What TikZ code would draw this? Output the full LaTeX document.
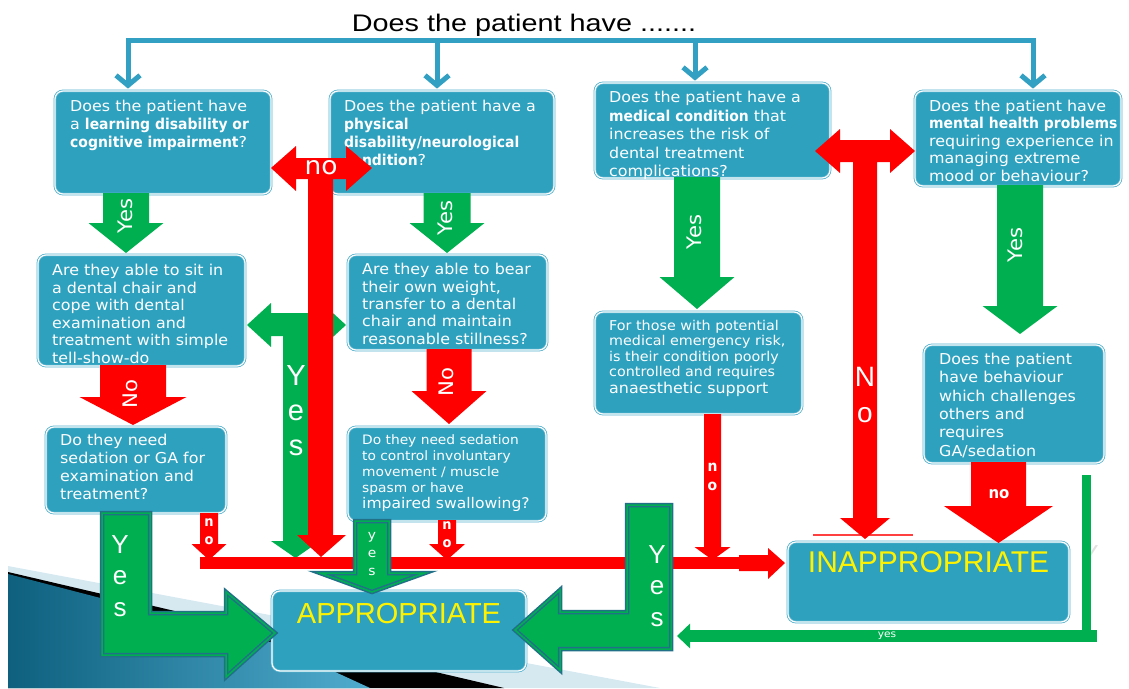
\documentclass[tikz,border=0pt]{standalone}
\usepackage{fontspec}
\setmainfont[UprightFeatures={FakeStretch=1.06},BoldFeatures={FakeStretch=0.93}]{DejaVu Sans}
\newfontfamily\arialfont{Liberation Sans}
\newfontfamily\titlefont[FakeStretch=1.2]{Liberation Sans}
\usetikzlibrary{arrows.meta}

\definecolor{boxblue}{RGB}{46,161,191}
\definecolor{boxrim}{RGB}{84,178,206}
\definecolor{linkblue}{RGB}{49,160,194}
\definecolor{okgreen}{RGB}{0,176,80}
\definecolor{nored}{RGB}{255,0,0}
\definecolor{tealrim}{RGB}{33,112,136}
\definecolor{decodark}{RGB}{14,96,126}
\definecolor{decolight}{RGB}{80,172,206}
\definecolor{decoband}{RGB}{214,233,241}

% question box from its corners x1,y1,x2,y2
\newcommand\qbox[5]{%
  \node[qbox, minimum width=#4-#2, minimum height=#5-#3] (#1)
    at ({(#2+#4)/2},{(#3+#5)/2}) {};}
% fat arrow pointing down: [colour] x, top, head, tip, half shaft, half head
\newcommand\fatdown[7][okgreen]{%
  \fill[#1] ({#2-#6},#3) -- ({#2+#6},#3) -- ({#2+#6},#4) -- ({#2+#7},#4)
    -- (#2,#5) -- ({#2-#7},#4) -- ({#2-#6},#4) -- cycle;}

\begin{document}
\begin{tikzpicture}[x=1pt,y=-1pt,
  qbox/.style={draw=boxrim, line width=0.8pt, double=white, double distance=1.2pt,
    fill=boxblue, rounded corners=8pt, inner sep=0pt},
  qtext/.style={anchor=north west, inner sep=0pt, align=left, text=white,
    font=\fontsize{15}{18}\selectfont},
  link/.style={draw=linkblue, line width=5pt, shorten >=2pt,
    -{Straight Barb[length=10pt,width=24pt]}},
  rlab/.style={rotate=90, inner sep=0pt, text=white, font=\fontsize{20}{20}\selectfont},
  stack/.style={anchor=north, inner sep=0pt, align=center, text=white},
  bigyes/.style={fill=okgreen, draw=tealrim, line width=1.5pt, double=okgreen,
    double distance=1.5pt},
  verdict/.style={anchor=north, inner sep=0pt, text=yellow,
    font=\arialfont\fontsize{30}{30}\selectfont}]

  \useasboundingbox (0,0) rectangle (1129,688);

  % slide background swoosh
  \fill[decoband] (8,566) -- (660,688) -- (8,688) -- cycle;
  \fill[black] (8,572) -- (504,688) -- (8,688) -- cycle;
  \shade[left color=decodark, right color=decolight]
    (8,574) -- (270,642) -- (370,688) -- (8,688) -- cycle;

  % boxes
  \qbox{b1}{55}{91}{271}{194}
  \qbox{b2}{330}{91}{554}{194}
  \qbox{b3}{595}{83}{830}{178}
  \qbox{b4}{915}{91}{1121}{186}
  \qbox{b5}{38}{255}{245}{366}
  \qbox{b6}{348}{255}{547}{350}
  \qbox{b7}{595}{312}{802}{414}
  \qbox{b8}{924}{345}{1104}{463}
  \qbox{b9}{46}{427}{226}{513}
  \qbox{b10}{348}{427}{546}{521}
  \qbox{appr}{272}{591}{526}{671}
  \qbox{inappr}{788}{542}{1069}{622}

  % title and links
  \node[anchor=base, font=\titlefont\fontsize{24}{24}\selectfont] (title)
    at (524,31) {Does the patient have .......};
  \coordinate (d1) at (128,40);
  \coordinate (d2) at (437,40);
  \coordinate (d3) at (695,40);
  \coordinate (d4) at (1033,40);
  \draw[linkblue, line width=5pt, line cap=rect] (d1) -- (d4);
  \foreach \d/\b in {d1/b1,d2/b2,d3/b3,d4/b4}
    \draw[link] (\d) -- (\d |- \b.north);

  % questions
  \node[qtext] (t1) at (70,100) {Does the patient have\\a \textbf{learning disability or}\\\textbf{cognitive impairment}?};
  \node[qtext] (t2) at (344,100) {Does the patient have a\\\textbf{physical}\\\textbf{disability/neurological}\\\textbf{condition}?};
  \node[qtext, font=\fontsize{15}{18.5}\selectfont] (t3) at (609,91) {Does the patient have a\\\textbf{medical condition} that\\increases the risk of\\dental treatment\\complications?};
  \node[qtext, font=\fontsize{15}{17.4}\selectfont] (t4) at (929,100) {Does the patient have\\\textbf{mental health problems}\\requiring experience in\\managing extreme\\mood or behaviour?};
  \node[qtext, font=\fontsize{15}{17.5}\selectfont] (t5) at (52,264) {Are they able to sit in\\a dental chair and\\cope with dental\\examination and\\treatment with simple\\tell-show-do};
  \node[qtext, font=\fontsize{15}{17.4}\selectfont] (t6) at (362,263) {Are they able to bear\\their own weight,\\transfer to a dental\\chair and maintain\\reasonable stillness?};
  \node[qtext, font=\fontsize{13.5}{15.5}\selectfont] (t7) at (609,320) {For those with potential\\medical emergency risk,\\is their condition poorly\\controlled and requires\\[1pt]{\fontsize{15}{18}\selectfont anaesthetic support}};
  \node[qtext, font=\fontsize{15}{18.3}\selectfont] (t8) at (939,353) {Does the patient\\have behaviour\\which challenges\\others and\\requires\\GA/sedation};
  \node[qtext] (t9) at (60,434) {Do they need\\sedation or GA for\\examination and\\treatment?};
  \node[qtext, font=\fontsize{13}{16}\selectfont] (t10) at (362,434) {Do they need sedation\\to control involuntary\\movement / muscle\\spasm or have\\{\fontsize{14.7}{16}\selectfont impaired swallowing?}};

  % yes arrows
  \fatdown{126}{193}{223}{253}{23}{37.5}
  \fatdown{447}{193}{223}{253}{23.5}{37.5}
  \fatdown{697}{177}{277}{309}{23}{37.5}
  \fatdown{1020}{185}{306}{334}{23}{37.5}
  \node[rlab] at (125,216) {Yes};
  \node[rlab] at (445,218) {Yes};
  \node[rlab] at (694,232) {Yes};
  \node[rlab] at (1015,245) {Yes};

  \fill[okgreen] (247,325) -- (271,303) -- (271,313) -- (322,313) -- (322,303)
    -- (346,325) -- (322,347) -- (322,336) -- (308,336) -- (308,541) -- (320,541)
    -- (295.5,558) -- (271,541) -- (283,541) -- (283,336) -- (271,336) -- (271,347) -- cycle;
  \node[stack, font=\arialfont\fontsize{29}{35}\selectfont] at (296,365) {Y\\e\\s};

  % no arrows
  \fatdown[nored]{133}{365}{397}{425}{33}{53.5}
  \fatdown[nored]{449}{349}{391}{424}{22.5}{37.5}
  \fatdown[nored]{209}{513}{544}{560}{9}{17.5}
  \fatdown[nored]{447}{520}{544}{560}{9}{18}
  \fatdown[nored]{712.5}{414}{547}{560}{8.5}{18}
  \fatdown[nored]{998.5}{462}{506}{543}{27.5}{54.5}
  \node[rlab] at (130,394) {No};
  \node[rlab] at (446,382) {No};
  \node[stack, font=\bfseries\fontsize{14}{18}\selectfont] at (209,518) {n\\o};
  \node[stack, font=\bfseries\fontsize{14}{18}\selectfont] at (447,521) {n\\o};
  \node[stack, font=\bfseries\fontsize{15}{19}\selectfont] at (712.5,463) {n\\o};
  \node[text=white, inner sep=0pt, font=\bfseries\fontsize{16}{16}\selectfont] at (999,494) {no};

  \fill[nored] (271,168) -- (296,146) -- (296,158) -- (346,158) -- (346,146)
    -- (372,168) -- (346,191) -- (346,179) -- (333,179) -- (333,535) -- (346,535)
    -- (321,557) -- (297,535) -- (308,535) -- (308,179) -- (296,179) -- (296,191) -- cycle;
  \node[text=white, inner sep=0pt, font=\fontsize{25}{25}\selectfont] at (321,168) {no};

  \draw[nored!75, line width=1.5pt] (813,535) -- (913,535);
  \fill[nored] (815,151) -- (840,129) -- (840,140) -- (890,140) -- (890,129)
    -- (915,151) -- (890,173) -- (890,162) -- (877,162) -- (877,518) -- (890,518)
    -- (865,539) -- (840,518) -- (853,518) -- (853,162) -- (840,162) -- (840,173) -- cycle;
  \node[stack, font=\arialfont\fontsize{28}{36}\selectfont] at (865,367) {N\\o};

  \fill[nored] (200,557) rectangle (740,569);
  \fill[nored] (739,555) -- (768,555) -- (768,548) -- (785,563) -- (768,579)
    -- (768,571) -- (739,571) -- cycle;

  % big yes arrows into APPROPRIATE
  \path[bigyes] (102,513) -- (150,513) -- (150,613) -- (226,613) -- (226,592)
    -- (275,633) -- (226,677) -- (226,655) -- (102,655) -- cycle;
  \path[bigyes] (355,521) -- (389,521) -- (389,573) -- (425,573) -- (372,592)
    -- (320,573) -- (355,573) -- cycle;
  \path[bigyes] (627,505) -- (671,505) -- (671,649) -- (560,649) -- (560,670)
    -- (515,630) -- (560,590) -- (560,612) -- (627,612) -- cycle;
  \node[stack, font=\arialfont\fontsize{26}{31.5}\selectfont] at (120,535) {Y\\e\\s};
  \node[stack, font=\fontsize{13}{18}\selectfont] at (372,532) {y\\e\\s};
  \node[stack, font=\arialfont\fontsize{26}{31.5}\selectfont] at (657,545) {Y\\e\\s};

  % yes line from the behaviour box
  \coordinate (ytop) at (1086.5,475);
  \coordinate (ybend) at (1086.5,642);
  \coordinate (ystart) at (1097,636);
  \coordinate (yend) at (677,636);
  \node[anchor=north, inner sep=0pt, text=black!12,
    font=\arialfont\fontsize{26}{26}\selectfont] at (1090,545) {Y};
  \draw[okgreen, line width=9pt] (ytop) -- (ybend);
  \draw[okgreen, line width=12pt, -{Triangle[length=13pt,width=24pt]}] (ystart) -- (yend)
    node[midway, text=white, font=\fontsize{10}{10}\selectfont] {yes};

  % verdicts
  \node[verdict, font=\arialfont\fontsize{29}{29}\selectfont] at ([yshift=-12pt]appr.north) {APPROPRIATE};
  \node[verdict] at ([yshift=-10pt]inappr.north) {INAPPROPRIATE};
\end{tikzpicture}
\end{document}
